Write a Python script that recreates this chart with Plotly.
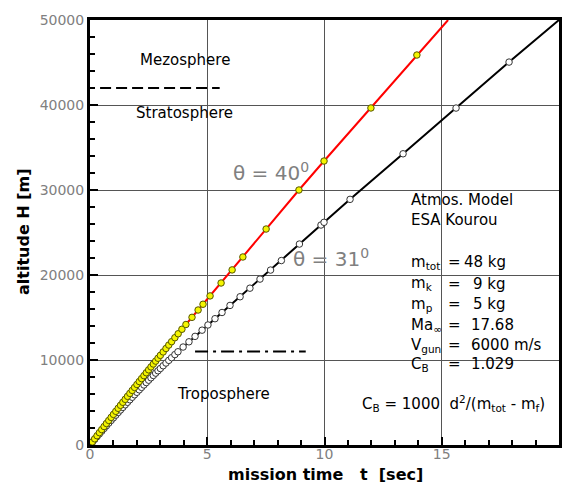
import plotly.graph_objects as go

# ---------------- data ----------------
# theta = 40 deg trajectory (red line, yellow markers): mission time [s], altitude [m]
RED_T = [0.0, 0.1, 0.2, 0.3, 0.4, 0.5, 0.6, 0.7, 0.8, 0.9,
         1.0, 1.1, 1.2, 1.3, 1.4, 1.5, 1.6, 1.7, 1.8, 1.9,
         2.0, 2.1, 2.2, 2.3, 2.4, 2.5, 2.6, 2.7, 2.8, 2.9,
         3.0, 3.12, 3.24, 3.36, 3.48, 3.62, 3.76, 3.92, 4.09, 4.35,
         4.61, 4.82, 5.12, 5.59, 6.06, 6.52, 7.51, 8.91, 9.98, 11.98, 13.94]
RED_H = [0, 365, 728, 1091, 1453, 1814, 2174, 2533, 2891, 3249,
         3605, 3961, 4315, 4669, 5022, 5374, 5725, 6075, 6424, 6773,
         7120, 7467, 7812, 8157, 8501, 8844, 9186, 9527, 9867, 10207,
         10545, 10950, 11354, 11756, 12157, 12623, 13088, 13617, 14176, 15020,
         15880, 16560, 17540, 19060, 20600, 22120, 25410, 30000, 33410, 39650, 45880]
RED_END_T = [15.27]
RED_END_H = [50000]

# theta = 31 deg trajectory (black line, white markers)
BLACK_T = [0.0, 0.1, 0.2, 0.3, 0.4, 0.5, 0.6, 0.7, 0.8, 0.9,
           1.0, 1.1, 1.2, 1.3, 1.4, 1.5, 1.6, 1.7, 1.8, 1.9,
           2.0, 2.1, 2.2, 2.3, 2.4, 2.5, 2.6, 2.7, 2.8, 2.9,
           3.0, 3.12, 3.24, 3.36, 3.48, 3.62, 3.75, 3.97, 4.22, 4.48,
           4.78, 5.03, 5.33, 5.63, 5.97, 6.40, 6.82, 7.25, 7.70, 8.16,
           8.93, 9.85, 9.98, 11.09, 13.35, 15.61, 17.87]
BLACK_H = [0, 329, 656, 981, 1304, 1625, 1944, 2261, 2576, 2889,
           3200, 3509, 3816, 4121, 4424, 4725, 5024, 5321, 5616, 5909,
           6200, 6489, 6776, 7061, 7344, 7625, 7904, 8181, 8456, 8729,
           9000, 9323, 9642, 9959, 10273, 10636, 10969, 11525, 12140, 12780,
           13510, 14120, 14860, 15590, 16420, 17440, 18450, 19520, 20580, 21700,
           23640, 25880, 26200, 28900, 34260, 39640, 45050]
BLACK_END_T = [20.0]
BLACK_END_H = [50000]

# atmosphere layer boundaries
STRATO_T = [0.43, 5.53]
STRATO_H = [42000, 42000]
TROPO_T = [4.48, 9.2]
TROPO_H = [11000, 11000]

X_TICKS = [0, 5, 10, 15, 20]
Y_TICKS = [0, 10000, 20000, 30000, 40000, 50000]

PARAM_LABELS = ["m<sub>tot</sub>", "m<sub>k</sub>", "m<sub>p</sub>",
                "Ma<sub>\u221e</sub>", "V<sub>gun</sub>", "C<sub>B</sub>"]
PARAM_VALUES = ["48 kg", "9 kg", "5 kg", "17.68", "6000 m/s", "1.029"]

# ---------------- layout helpers ----------------
W, H = 566, 484
L, R, T, B = 90, 559, 20, 445   # plot-area pixel box


def px(xp):
    return (xp - L) / (R - L)


def py(yp):
    return (B - yp) / (B - T)


FONT = "DejaVu Sans"
fig = go.Figure()

# lines
fig.add_trace(go.Scatter(x=BLACK_T + BLACK_END_T, y=BLACK_H + BLACK_END_H, mode="lines",
                         line=dict(color="black", width=2), hoverinfo="skip", showlegend=False))
fig.add_trace(go.Scatter(x=RED_T + RED_END_T, y=RED_H + RED_END_H, mode="lines",
                         line=dict(color="#ff0000", width=2), hoverinfo="skip", showlegend=False))
# markers
fig.add_trace(go.Scatter(x=BLACK_T, y=BLACK_H, mode="markers",
                         marker=dict(size=6.5, color="white", line=dict(color="#333333", width=1)),
                         showlegend=False))
fig.add_trace(go.Scatter(x=RED_T, y=RED_H, mode="markers",
                         marker=dict(size=6.5, color="#f5f500", line=dict(color="#555500", width=1)),
                         showlegend=False))
# boundaries
fig.add_trace(go.Scatter(x=STRATO_T, y=STRATO_H, mode="lines",
                         line=dict(color="black", width=2, dash="11px,5px"), showlegend=False))
fig.add_trace(go.Scatter(x=TROPO_T, y=TROPO_H, mode="lines",
                         line=dict(color="black", width=2, dash="13px,5px,3px,5px"), showlegend=False))

# white boxes behind labels (between grid and traces)
boxes = [(130, 49, 240, 77), (127, 98, 242, 128), (165, 382, 282, 407),
         (388, 183, 555, 377), (355, 394, 550, 412)]
for x0, y0, x1, y1 in boxes:
    fig.add_shape(type="rect", xref="paper", yref="paper",
                  x0=px(x0), x1=px(x1), y0=py(y1), y1=py(y0),
                  fillcolor="white", line=dict(width=0), layer="between")

ann = []


def text(xp, yp, s, size=15, color="black", xanchor="center", bold=False, angle=0):
    ann.append(dict(x=px(xp), y=py(yp), xref="paper", yref="paper", text=s,
                    showarrow=False, xanchor=xanchor, yanchor="middle", textangle=angle,
                    font=dict(family=FONT, size=size, color=color,
                              weight="bold" if bold else "normal")))


text(185, 60, "Mezosphere")
text(184, 113, "Stratosphere")
text(223, 394, "Troposphere")
text(271, 172, "\u03b8 = 40<sup>0</sup>", size=20, color="#808080")
text(331, 258, "\u03b8 = 31<sup>0</sup>", size=20, color="#808080")
text(409, 200, "Atmos. Model", xanchor="left")
text(409, 220, "ESA Kourou", xanchor="left")
row_y = [262, 284, 304, 325, 345, 364]
for lab, val, yy in zip(PARAM_LABELS, PARAM_VALUES, row_y):
    text(409, yy, lab, xanchor="left")
    text(454, yy, "=")
    if val.endswith("kg"):
        text(508, yy, val, xanchor="right")
    else:
        text(469, yy, val, xanchor="left")
text(453, 403, "C<sub>B</sub> = 1000\u00a0 d<sup>2</sup>/(m<sub>tot</sub> - m<sub>f</sub>)")
# axis titles
text(325, 474, "mission time\u00a0\u00a0 t\u00a0 [sec]", size=16, bold=True)
text(24, 232, "altitude H [m]", size=16, bold=True, angle=-90)

axis_common = dict(ticks="inside", ticklen=8, tickwidth=2, tickcolor="black",
                   showline=True, linewidth=3, linecolor="black", mirror=True,
                   showgrid=True, gridcolor="#555555", gridwidth=1, zeroline=False,
                   automargin=False,
                   tickfont=dict(family=FONT, size=14, color="#808080"))

fig.update_layout(
    width=W, height=H,
    margin=dict(l=L, r=W - R, t=T, b=H - B, autoexpand=False),
    paper_bgcolor="white", plot_bgcolor="white",
    xaxis=dict(range=[0, 20], tickvals=X_TICKS, ticktext=[str(v) for v in X_TICKS],
               ticklabelstandoff=-6,
               minor=dict(dtick=1, ticks="inside", ticklen=5, tickwidth=1.5,
                          tickcolor="black", showgrid=False),
               **axis_common),
    yaxis=dict(range=[0, 50000], tickvals=Y_TICKS, ticktext=[str(v) for v in Y_TICKS],
               minor=dict(dtick=2000, ticks="inside", ticklen=5, tickwidth=1.5,
                          tickcolor="black", showgrid=False),
               **axis_common),
    annotations=ann,
    showlegend=False,
)

fig.write_html("out.html", config={"displayModeBar": False},
               post_script="document.body.style.margin='0';document.body.style.overflow='hidden';")
